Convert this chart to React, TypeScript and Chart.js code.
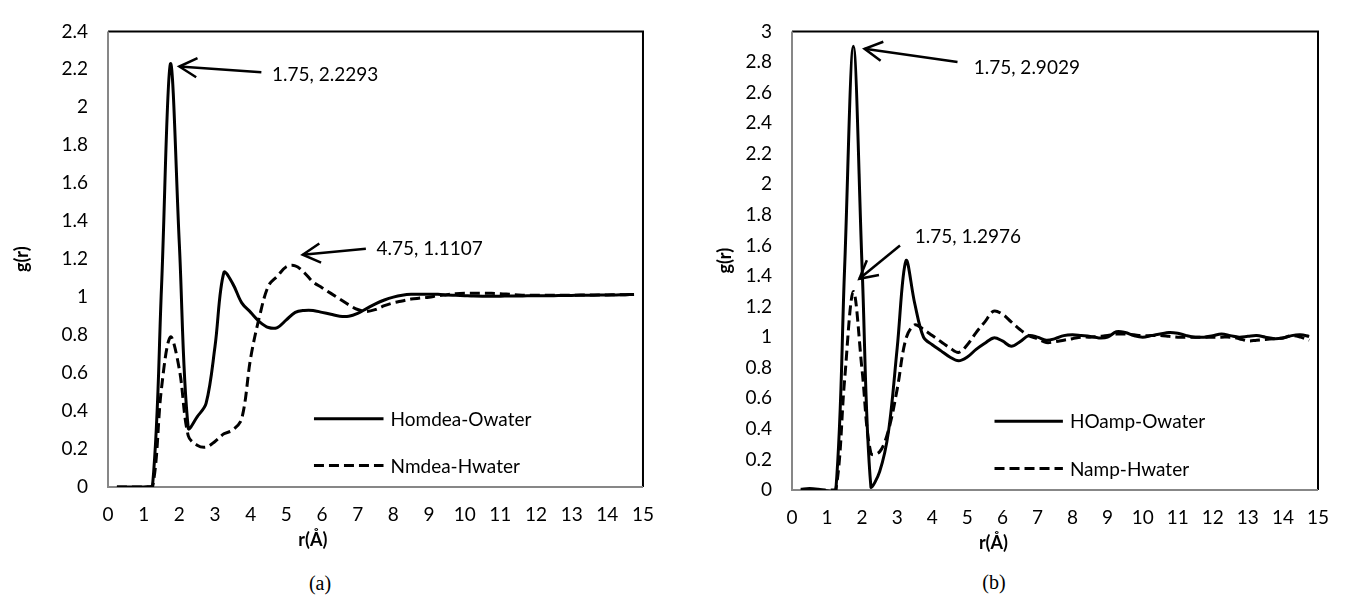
import React, { useEffect, useRef } from 'react';
import { Chart, registerables } from 'chart.js';

Chart.register(...registerables);

const FONT = 'Lato, "Open Sans", sans-serif';

// r values (Å), same grid for every curve
const rValues = [
  0.25, 0.5, 0.75, 1, 1.25, 1.5, 1.75, 2,
  2.25, 2.5, 2.75, 3, 3.25, 3.5, 3.75, 4,
  4.25, 4.5, 4.75, 5, 5.25, 5.5, 5.75, 6,
  6.25, 6.5, 6.75, 7, 7.25, 7.5, 7.75, 8,
  8.25, 8.5, 8.75, 9, 9.25, 9.5, 9.75, 10,
  10.25, 10.5, 10.75, 11, 11.25, 11.5, 11.75, 12,
  12.25, 12.5, 12.75, 13, 13.25, 13.5, 13.75, 14,
  14.25, 14.5, 14.75,
];

// panel (a)
const homdeaOwater = [
  0, 0, 0, 0, 0.01, 1.05, 2.2293, 1.28,
  0.31, 0.37, 0.44, 0.74, 1.13, 1.07, 0.97, 0.92,
  0.87, 0.84, 0.84, 0.88, 0.92, 0.93, 0.93, 0.92,
  0.91, 0.9, 0.9, 0.915, 0.94, 0.965, 0.985, 1.0,
  1.01, 1.015, 1.015, 1.015, 1.015, 1.012, 1.01, 1.008,
  1.006, 1.005, 1.005, 1.005, 1.006, 1.006, 1.007, 1.007,
  1.008, 1.008, 1.009, 1.009, 1.01, 1.01, 1.011, 1.011,
  1.012, 1.013, 1.014,
];
const nmdeaHwater = [
  0, 0, 0, 0, 0, 0.52, 0.79, 0.62,
  0.27, 0.22, 0.21, 0.24, 0.28, 0.3, 0.36, 0.68,
  0.9, 1.06, 1.1107, 1.16, 1.165, 1.13, 1.08, 1.05,
  1.02, 0.99, 0.96, 0.935, 0.925, 0.935, 0.955, 0.97,
  0.98, 0.99, 0.995, 1.0, 1.008, 1.013, 1.018, 1.02,
  1.02, 1.02, 1.02, 1.018, 1.015, 1.012, 1.01, 1.01,
  1.01, 1.01, 1.01, 1.01, 1.011, 1.011, 1.012, 1.012,
  1.013, 1.013, 1.014,
];

// panel (b)
const hoampOwater = [
  0.005, 0.01, 0.005, -0.005, 0, 1.45, 2.9029, 1.45,
  0.02, 0.12, 0.38, 0.93, 1.5, 1.22, 1.0, 0.95,
  0.91, 0.87, 0.845, 0.87, 0.92, 0.96, 0.995, 0.975,
  0.94, 0.97, 1.01, 1.0, 0.98, 0.99, 1.01, 1.015,
  1.01, 1.005, 0.995, 1.0, 1.035, 1.03, 1.01, 1.0,
  1.01, 1.02, 1.03, 1.025, 1.01, 1.0, 1.0, 1.01,
  1.02, 1.01, 1.0, 1.005, 1.01, 1.0, 0.99, 0.995,
  1.01, 1.015, 1.005,
];
const nampHwater = [
  0, 0, 0, 0, 0, 0.72, 1.2976, 0.78,
  0.24, 0.25, 0.39, 0.66, 0.99, 1.08, 1.05, 1.01,
  0.97, 0.93, 0.9, 0.95, 1.03, 1.1, 1.17, 1.15,
  1.1, 1.05, 1.01, 0.99, 0.965, 0.97, 0.98, 0.99,
  1.0, 1.0, 1.005, 1.01, 1.02, 1.02, 1.015, 1.01,
  1.01, 1.01, 1.005, 1.0, 1.0, 1.0, 1.0, 1.0,
  1.0, 1.0, 0.99, 0.975, 0.98, 0.985, 0.99, 0.995,
  1.01, 1.0, 0.98,
];

// peak call-outs, in data units
const notesA = [
  { text: '1.75, 2.2293', tip: [2.0, 2.215], tail: [4.3, 2.185], at: [4.6, 2.173] },
  { text: '4.75, 1.1107', tip: [5.46, 1.224], tail: [7.23, 1.255], at: [7.53, 1.253] },
];
const notesB = [
  { text: '1.75, 2.9029', tip: [2.07, 2.886], tail: [4.72, 2.8], at: [5.18, 2.764] },
  { text: '1.75, 1.2976', tip: [1.92, 1.382], tail: [3.08, 1.599], at: [3.5, 1.656] },
];

const panelDecor = {
  id: 'panelDecor',
  beforeDatasetsDraw(chart: any) {
    const { ctx, chartArea } = chart;
    const { left, right, top, bottom } = chartArea;
    ctx.save();
    ctx.lineWidth = 2;
    ctx.strokeStyle = '#000';
    ctx.beginPath();
    ctx.moveTo(left, top);
    ctx.lineTo(right, top);
    ctx.lineTo(right, bottom);
    ctx.stroke();
    ctx.strokeStyle = '#878787';
    ctx.beginPath();
    ctx.moveTo(left, top);
    ctx.lineTo(left, bottom);
    ctx.lineTo(right, bottom);
    ctx.stroke();
    ctx.restore();
  },
  afterDatasetsDraw(chart: any, _args: any, opts: any) {
    const { ctx, chartArea } = chart;
    const { left, right, top, bottom } = chartArea;
    const xs = chart.scales.x;
    const ys = chart.scales.y;
    const w = right - left;
    const h = bottom - top;
    ctx.save();
    ctx.fillStyle = '#000';
    ctx.strokeStyle = '#000';
    ctx.lineCap = 'butt';

    for (const n of opts.notes || []) {
      const tx = xs.getPixelForValue(n.tip[0]);
      const ty = ys.getPixelForValue(n.tip[1]);
      const sx = xs.getPixelForValue(n.tail[0]);
      const sy = ys.getPixelForValue(n.tail[1]);
      const ang = Math.atan2(sy - ty, sx - tx);
      ctx.setLineDash([]);
      ctx.lineWidth = 2.5;
      ctx.beginPath();
      ctx.moveTo(sx, sy);
      ctx.lineTo(tx, ty);
      ctx.stroke();
      ctx.beginPath();
      ctx.moveTo(tx + 20 * Math.cos(ang - 0.5), ty + 20 * Math.sin(ang - 0.5));
      ctx.lineTo(tx, ty);
      ctx.lineTo(tx + 20 * Math.cos(ang + 0.5), ty + 20 * Math.sin(ang + 0.5));
      ctx.stroke();
      ctx.font = `19px ${FONT}`;
      ctx.textAlign = 'left';
      ctx.textBaseline = 'middle';
      ctx.fillText(n.text, xs.getPixelForValue(n.at[0]), ys.getPixelForValue(n.at[1]));
    }

    // legend inside the plot
    const rows = [0.15, 0.047];
    chart.data.datasets.forEach((ds: any, i: number) => {
      const y = bottom - h * rows[i];
      const x0 = left + 0.385 * w;
      const x1 = x0 + 0.13 * w;
      ctx.lineWidth = 3;
      ctx.setLineDash(ds.borderDash || []);
      ctx.beginPath();
      ctx.moveTo(x0, y);
      ctx.lineTo(x1, y);
      ctx.stroke();
      ctx.setLineDash([]);
      ctx.font = `19px ${FONT}`;
      ctx.textAlign = 'left';
      ctx.textBaseline = 'middle';
      ctx.fillText(ds.label, x1 + 7, y + 1);
    });

    ctx.font = `bold 18px ${FONT}`;
    ctx.textAlign = 'center';
    ctx.textBaseline = 'middle';
    ctx.fillText('r(Å)', left + 0.383 * w, bottom + 53);
    ctx.restore();
  },
};

type Geom = {
  left: number;
  width: number;
  yAxisWidth: number;
  padTop: number;
  padRight: number;
  xAxisHeight: number;
  yTitlePad: number;
};

type Series = { label: string; values: number[]; dashed: boolean };

const HEIGHT = 560;

const GrPanel = ({ series, yMax, notes, geom }: { series: Series[]; yMax: number; notes: any[]; geom: Geom }) => {
  const chartRef = useRef<HTMLCanvasElement>(null);

  useEffect(() => {
    if (!chartRef.current) return;

    const myChart = new Chart(chartRef.current, {
      type: 'line',
      data: {
        datasets: series.map((s) => ({
          label: s.label,
          data: rValues.map((r, i) => ({ x: r, y: s.values[i] })),
          borderColor: '#000',
          backgroundColor: '#000',
          borderWidth: 3,
          borderDash: s.dashed ? [10, 5] : [],
          pointRadius: 0,
          tension: 0.35,
          fill: false,
        })),
      },
      options: {
        animation: false,
        responsive: true,
        maintainAspectRatio: false,
        layout: { padding: { top: geom.padTop, right: geom.padRight, left: 0, bottom: 0 } },
        scales: {
          x: {
            type: 'linear',
            min: 0,
            max: 15,
            afterFit: (scale: any) => {
              scale.height = geom.xAxisHeight;
            },
            grid: { display: false, drawTicks: false },
            border: { display: false },
            ticks: {
              stepSize: 1,
              autoSkip: false,
              maxRotation: 0,
              color: '#000',
              padding: 16,
              font: { family: FONT, size: 19 },
            },
          },
          y: {
            type: 'linear',
            min: 0,
            max: yMax,
            afterFit: (scale: any) => {
              scale.width = geom.yAxisWidth;
            },
            grid: { display: false, drawTicks: false },
            border: { display: false },
            ticks: {
              stepSize: 0.2,
              color: '#000',
              padding: 20,
              font: { family: FONT, size: 19 },
              callback: (v: any) => String(Math.round(Number(v) * 10) / 10),
            },
            title: {
              display: true,
              text: 'g(r)',
              color: '#000',
              font: { family: FONT, size: 18, weight: 'bold' },
              padding: { top: geom.yTitlePad, bottom: 0 },
            },
          },
        },
        plugins: {
          legend: { display: false },
          tooltip: { enabled: false },
          // @ts-ignore
          panelDecor: { notes },
        },
      },
      plugins: [panelDecor],
    });

    return () => {
      myChart.destroy();
    };
  }, []);

  return (
    <div style={{ position: 'absolute', left: geom.left, top: 0, width: geom.width, height: HEIGHT }}>
      <canvas ref={chartRef}></canvas>
    </div>
  );
};

const captionStyle: React.CSSProperties = {
  position: 'absolute',
  transform: 'translate(-50%, -50%)',
  fontFamily: '"Liberation Serif", "Times New Roman", serif',
  fontSize: 20,
  color: '#000',
  whiteSpace: 'nowrap',
};

const App = () => {
  useEffect(() => {
    document.body.style.margin = '0';
  }, []);

  return (
    <div style={{ position: 'absolute', left: 0, top: 0, width: 1346, height: 596, background: '#fff' }}>
      <GrPanel
        series={[
          { label: 'Homdea-Owater', values: homdeaOwater, dashed: false },
          { label: 'Nmdea-Hwater', values: nmdeaHwater, dashed: true },
        ]}
        yMax={2.4}
        notes={notesA}
        geom={{ left: 0, width: 670, yAxisWidth: 108, padTop: 19, padRight: 26, xAxisHeight: 73, yTitlePad: 11 }}
      />
      <GrPanel
        series={[
          { label: 'HOamp-Owater', values: hoampOwater, dashed: false },
          { label: 'Namp-Hwater', values: nampHwater, dashed: true },
        ]}
        yMax={3}
        notes={notesB}
        geom={{ left: 680, width: 666, yAxisWidth: 112, padTop: 16, padRight: 28, xAxisHeight: 70, yTitlePad: 34 }}
      />
      <div style={{ ...captionStyle, left: 320, top: 583 }}>(a)</div>
      <div style={{ ...captionStyle, left: 994, top: 582 }}>(b)</div>
    </div>
  );
};

export default App;
